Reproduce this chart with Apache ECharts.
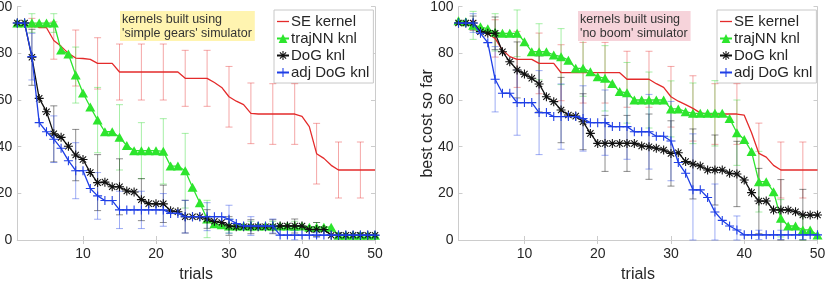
<!DOCTYPE html>
<html>
<head>
<meta charset="utf-8">
<script src="https://cdn.jsdelivr.net/npm/echarts@6/dist/echarts.min.js"></script>
<style>
  html, body { margin: 0; padding: 0; background: #fff; }
  #main { width: 826px; height: 286px; }
</style>
</head>
<body>
<div id="main"></div>
<script>
// trials 1..50
const trials = Array.from({ length: 50 }, (_, i) => i + 1);
// error bars are drawn every third trial
const errTrials = [3, 6, 9, 12, 15, 18, 21, 24, 27, 30, 33, 36, 39, 42, 45, 48];
const xTicks = [10, 20, 30, 40, 50];

// left: 'simple gears' simulator
const seLeft = [93, 93, 93, 91, 91, 85.5, 83, 80, 78, 77.8, 77.4, 75.7, 75.7, 75.7, 72, 72, 72, 72, 72, 72,
  72, 72, 72, 69.3, 69.3, 69.3, 69.3, 67.5, 65.4, 61.4, 59.5, 58, 54.3, 54, 54, 54, 54, 54, 54, 53,
  48.6, 37, 35, 32, 30, 30, 30, 30, 30, 30];
const trajLeft = [93, 93, 93, 93, 93, 93, 81.4, 79.7, 70.7, 63, 57, 51.4, 46.4, 46.4, 44, 40.5, 38.3, 38.3, 38.3, 38.3,
  38, 31.7, 31.7, 29.7, 22.6, 16, 9, 7, 6.5, 6, 6, 6, 6, 6, 6, 6, 6, 6, 6, 6,
  5.5, 5.5, 5.5, 5.5, 2, 2, 2, 2, 2, 2];
const dogLeft = [93, 93, 78.3, 60.7, 55, 45.5, 44, 40.2, 36.4, 34.5, 28.9, 24.6, 24.8, 22.8, 22.8, 21, 20.6, 17.3, 15.6, 15.5,
  15.5, 12.5, 12.1, 10, 10, 10, 9, 8, 7.5, 6, 5.7, 5.7, 5.7, 5.7, 5.7, 5.7, 6, 6, 6, 6,
  4.5, 4.5, 4.5, 2, 2, 2, 2, 2, 2, 2];
const adjLeft = [93, 93, 78.6, 50.3, 46.4, 43.2, 39.3, 34, 29.7, 29.7, 22.1, 18.9, 16.9, 16.9, 12.9, 12.9, 12.9, 12.9, 12.9, 12.9,
  12.9, 11.4, 11.4, 10, 10, 10, 10, 10, 10, 8.9, 7.1, 6, 6, 6, 6, 6, 2.1, 2.1, 2.1, 2.1,
  2.1, 2.1, 2.1, 2.1, 2.1, 2.1, 2.1, 2.1, 2.1, 2.1];
// half widths of the error bars at errTrials
const seLeftErr = [2, 8, 12, 11, 12, 12, 12, 12, 12, 13, 13, 13, 13, 13, 12, 12];
const trajLeftErr = [4, 4, 12, 14, 14, 12, 14, 16, 8, 3, 2, 2, 2, 2, 1, 1];
const dogLeftErr = [12, 12, 11, 12, 12, 9, 8, 7, 4, 4, 3, 3, 3, 3, 1, 1];
const adjLeftErr = [10, 10, 12, 10, 8, 8, 7, 7, 6, 6, 4, 3, 2, 1, 1, 1];

// right: 'no boom' simulator
const seRight = [93, 93, 92, 90, 88.5, 86.4, 81.4, 78.6, 77.4, 77.4, 77.4, 75.7, 75.7, 75.7, 71.7, 71.7, 71.7, 71.7, 71.7, 71.7,
  71.7, 71.7, 71.7, 68.9, 68.9, 68.9, 68.9, 67, 65.4, 61.4, 59.5, 58, 56.4, 54.5, 54, 54, 54, 54, 54, 53.5,
  46, 37.1, 35.5, 32, 30, 30, 30, 30, 30, 30];
const trajRight = [94, 93.5, 92, 91.4, 90.5, 89, 88.6, 88.6, 88.6, 85, 80.7, 80.7, 80.7, 79.3, 78.6, 77.1, 73.6, 73.6, 72.1, 70,
  69.3, 67.1, 63.6, 63.1, 60, 60, 60, 60, 60, 56.2, 56.2, 55, 54.3, 54.3, 54.3, 54.3, 54.3, 52.1, 46, 43.1,
  37.9, 25, 25, 20.7, 9.3, 6, 6, 4.3, 4.3, 2.1];
const dogRight = [93, 93, 93, 89.3, 88.6, 88.6, 80.7, 76.4, 72.9, 71.1, 69.3, 66.9, 61.4, 59.3, 55.7, 53.6, 53.1, 50.7, 45.7, 41.4,
  41.4, 41.4, 41.4, 41.4, 41.4, 40.3, 40, 39.3, 38.6, 37.1, 37.4, 33.6, 32.6, 31.7, 30, 30, 30, 28.6, 28.3, 25.7,
  20.3, 16.7, 16.7, 12.9, 12.9, 12.9, 12.1, 10.7, 10.7, 10.7];
const adjRight = [93, 93, 93, 88.6, 84.6, 68.9, 62.9, 62.9, 58.9, 58.9, 58.9, 54.6, 54.6, 52.9, 52.9, 52.9, 52.9, 52.1, 50.3, 50.3,
  50.3, 48.6, 48.6, 48.6, 46.4, 46.4, 46.4, 44.5, 44.5, 42.4, 33.2, 28.6, 21.5, 21.5, 18.2, 12, 8.4, 6, 4.3, 2.2,
  2.2, 2.2, 2.2, 2.2, 2.2, 2.2, 2.2, 2.2, 2.2, 2.2];
const seRightErr = [2, 8, 12, 13, 12, 13, 13, 12, 12, 13, 14, 13, 13, 13, 12, 12];
const trajRightErr = [6, 8, 10, 12, 12, 12, 14, 13, 12, 12, 13, 14, 14, 13, 8, 6];
const dogRightErr = [3, 7, 12, 12, 14, 12, 12, 12, 14, 14, 15, 15, 14, 14, 13, 11];
const adjRightErr = [4, 14, 14, 18, 14, 14, 14, 14, 16, 17, 24, 12, 6, 2, 2, 2];

const names = ['SE kernel', 'trajNN knl', 'DoG knl', 'adj DoG knl'];
const colors = ['#e42b2b', '#2de52d', '#111111', '#1f3fe6'];
const errColors = ['rgba(230,60,60,0.45)', 'rgba(60,220,60,0.45)', 'rgba(30,30,30,0.5)', 'rgba(40,70,230,0.45)'];

const FONT = 'Liberation Sans, Arial, sans-serif';
const AXIS_GRAY = '#cccccc';
const TEXT = '#262626';

// marker shapes (filled paths so fill color works)
const starPath = 'path://M-0.6,-5L0.6,-5L0.6,5L-0.6,5Z M-5,-0.6L5,-0.6L5,0.6L-5,0.6Z ' +
  'M-3.08,-3.92L3.92,3.08L3.08,3.92L-3.92,-3.08Z M-3.92,3.08L3.08,-3.92L3.92,-3.08L-3.08,3.92Z';
const plusPath = 'path://M-0.6,-5L0.6,-5L0.6,5L-0.6,5Z M-5,-0.6L5,-0.6L5,0.6L-5,0.6Z';
const symbols = ['none', 'triangle', starPath, plusPath];
const symbolSizes = [0, [10, 9], 9, 9];

function lineSeries(idx, values, axis) {
  return {
    type: 'line',
    name: names[idx],
    xAxisIndex: axis, yAxisIndex: axis,
    data: values.map((v, i) => [trials[i], v]),
    symbol: symbols[idx],
    symbolSize: symbolSizes[idx],
    showSymbol: idx > 0,
    lineStyle: { color: colors[idx], width: 1.3 },
    itemStyle: { color: colors[idx] },
    z: 10 + idx,
    animation: false,
    silent: true
  };
}

function errSeries(idx, values, errs, axis) {
  const col = errColors[idx];
  return {
    type: 'custom',
    name: 'err' + idx + '_' + axis,
    xAxisIndex: axis, yAxisIndex: axis,
    data: errTrials.map((t, k) => {
      const m = values[t - 1];
      return [t, Math.max(0, m - errs[k]), Math.min(100, m + errs[k])];
    }),
    encode: { x: 0, y: [1, 2] },
    renderItem: (params, api) => {
      const x = api.value(0);
      const lo = api.coord([x, api.value(1)]);
      const hi = api.coord([x, api.value(2)]);
      const w = 3.5;
      const st = { stroke: col, lineWidth: 1 };
      return {
        type: 'group',
        children: [
          { type: 'line', shape: { x1: lo[0], y1: lo[1], x2: hi[0], y2: hi[1] }, style: st },
          { type: 'line', shape: { x1: lo[0] - w, y1: lo[1], x2: lo[0] + w, y2: lo[1] }, style: st },
          { type: 'line', shape: { x1: hi[0] - w, y1: hi[1], x2: hi[0] + w, y2: hi[1] }, style: st }
        ]
      };
    },
    z: 5,
    animation: false,
    silent: true
  };
}

// axes box: bottom/left with labels, top/right only ticks
function xAxes(grid) {
  const base = {
    type: 'value', gridIndex: grid, min: 1, max: 50,
    splitLine: { show: false },
    axisLine: { show: true, lineStyle: { color: AXIS_GRAY, width: 1 } },
    axisTick: { show: true, inside: true, length: 4, customValues: xTicks, lineStyle: { color: AXIS_GRAY } }
  };
  return [
    Object.assign({}, base, {
      position: 'bottom',
      axisLabel: { customValues: xTicks, color: TEXT, fontSize: 14, fontFamily: FONT, margin: 7 },
      name: 'trials', nameLocation: 'middle', nameGap: 27, nameMoveOverlap: false,
      nameTextStyle: { color: TEXT, fontSize: 16, fontFamily: FONT }
    }),
    Object.assign({}, base, { position: 'top', axisLabel: { show: false } })
  ];
}

function yAxes(grid, title) {
  const base = {
    type: 'value', gridIndex: grid, min: 0, max: 100, interval: 20,
    splitLine: { show: false },
    axisLine: { show: true, lineStyle: { color: AXIS_GRAY, width: 1 } },
    axisTick: { show: true, inside: true, length: 4, lineStyle: { color: AXIS_GRAY } }
  };
  return [
    Object.assign({}, base, {
      position: 'left',
      axisLabel: { color: TEXT, fontSize: 14, fontFamily: FONT, margin: 5 },
      name: title, nameLocation: 'middle', nameGap: 23, nameMoveOverlap: false,
      nameTextStyle: { color: TEXT, fontSize: 16, fontFamily: FONT }
    }),
    Object.assign({}, base, { position: 'right', axisLabel: { show: false } })
  ];
}

function legendAt(left) {
  return {
    // SE kernel has no marker: a plain line icon
    data: [{ name: names[0], icon: 'path://M0,0L12,0L12,1.3L0,1.3Z' }].concat(names.slice(1)),
    orient: 'vertical',
    left: left, top: 10,
    itemWidth: 12, itemHeight: 11, itemGap: 2,
    padding: [4, 4, 3, 2],
    backgroundColor: '#fff',
    borderColor: '#c8c8c8', borderWidth: 1, borderRadius: 0,
    selectedMode: false,
    textStyle: { color: TEXT, fontSize: 15, fontFamily: FONT, padding: [0, 0, 0, -3], lineHeight: 15 }
  };
}

function noteBox(left, text, bg) {
  return {
    type: 'text', left: left, top: 11, z: 50,
    style: {
      text: text, fill: '#333', font: '12.5px ' + FONT, lineHeight: 14.5,
      backgroundColor: bg, padding: [1, 3, 0, 2]
    }
  };
}

const myChart = echarts.init(document.getElementById('main'), null, { renderer: 'canvas' });

const option = {
  backgroundColor: '#fff',
  animation: false,
  grid: [
    { left: 17.3, top: 6.7, width: 357.7, height: 233.3, containLabel: false, outerBoundsMode: 'none' },
    { left: 458.5, top: 6.7, width: 359, height: 233.3, containLabel: false, outerBoundsMode: 'none' }
  ],
  xAxis: xAxes(0).concat(xAxes(1)),
  // axis indexes: 0,1 left grid; 2,3 right grid
  yAxis: yAxes(0, '').concat(yAxes(1, 'best cost so far')),
  legend: [legendAt(274), legendAt(717)],
  graphic: [
    noteBox(120, "kernels built using\n'simple gears' simulator", '#fff4b0'),
    noteBox(578, "kernels built using\n'no boom' simulator", '#f6d3da')
  ],
  series: [
    errSeries(0, seLeft, seLeftErr, 0),
    errSeries(1, trajLeft, trajLeftErr, 0),
    errSeries(2, dogLeft, dogLeftErr, 0),
    errSeries(3, adjLeft, adjLeftErr, 0),
    lineSeries(0, seLeft, 0),
    lineSeries(1, trajLeft, 0),
    lineSeries(2, dogLeft, 0),
    lineSeries(3, adjLeft, 0),
    errSeries(0, seRight, seRightErr, 2),
    errSeries(1, trajRight, trajRightErr, 2),
    errSeries(2, dogRight, dogRightErr, 2),
    errSeries(3, adjRight, adjRightErr, 2),
    lineSeries(0, seRight, 2),
    lineSeries(1, trajRight, 2),
    lineSeries(2, dogRight, 2),
    lineSeries(3, adjRight, 2)
  ]
};
myChart.setOption(option);
</script>
</body>
</html>
